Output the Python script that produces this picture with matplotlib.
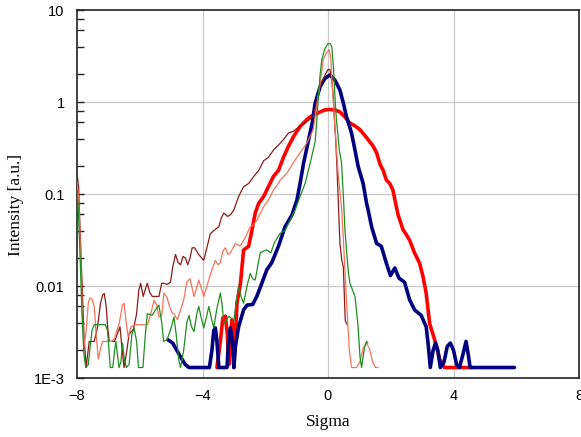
import numpy as np
import matplotlib
matplotlib.use("Agg")
import matplotlib.pyplot as plt
from matplotlib.ticker import FixedLocator, FixedFormatter, LogLocator, NullFormatter

# axis ticks
x_ticks = [-8, -4, 0, 4, 8]
y_ticks = [1e-3, 1e-2, 1e-1, 1, 10]
y_tick_labels = ["1E-3", "0.01", "0.1", "1", "10"]

# dark red (thin)
s_darkred = [-8.00, -7.95, -7.90, -7.84, -7.78, -7.71, -7.66, -7.61, -7.45, -7.35, -7.25, -7.18, -7.13, -7.07,
             -7.02, -6.97, -6.80, -6.72, -6.63, -6.56, -6.50, -6.43, -6.34, -6.20, -6.10, -6.03, -5.97, -5.89,
             -5.81, -5.76, -5.68, -5.60, -5.50, -5.39, -5.30, -5.23, -5.13, -5.02, -4.95, -4.86, -4.78, -4.70,
             -4.62, -4.54, -4.47, -4.40, -4.33, -4.25, -4.12, -3.96, -3.85, -3.75, -3.64, -3.48, -3.40, -3.32,
             -3.20, -3.10, -3.00, -2.85, -2.69, -2.53, -2.37, -2.21, -2.05, -1.90, -1.74, -1.58, -1.42, -1.26,
             -1.10, -0.89, -0.68, -0.47, -0.36, -0.25, -0.10, 0.00, 0.06, 0.12, 0.17, 0.21, 0.25, 0.29, 0.33,
             0.38, 0.44, 0.49, 0.52, 0.55, 0.61]
i_darkred = [0.17, 0.12, 0.04, 0.011, 0.003, 0.0013, 0.0018, 0.0025, 0.0025, 0.0035, 0.0065, 0.008, 0.0083, 0.006,
             0.0035, 0.0025, 0.0025, 0.003, 0.0036, 0.002, 0.0013, 0.0018, 0.003, 0.0034, 0.005, 0.009, 0.0107, 0.0077,
             0.0095, 0.0107, 0.0085, 0.0077, 0.0077, 0.0077, 0.0107, 0.0107, 0.0104, 0.011, 0.016, 0.022, 0.018, 0.017,
             0.021, 0.02, 0.017, 0.02, 0.026, 0.026, 0.022, 0.019, 0.027, 0.037, 0.04, 0.044, 0.055, 0.062,
             0.057, 0.06, 0.067, 0.094, 0.12, 0.13, 0.155, 0.18, 0.23, 0.25, 0.30, 0.34, 0.39, 0.46,
             0.48, 0.55, 0.61, 0.69, 1.0, 1.5, 1.95, 2.25, 2.26, 1.7, 1.14, 0.6, 0.36, 0.18, 0.08,
             0.029, 0.019, 0.016, 0.008, 0.0042, 0.0038]

# salmon (thin)
s_salmon = [-8.00, -7.95, -7.88, -7.82, -7.77, -7.70, -7.64, -7.59, -7.52, -7.45, -7.39, -7.32, -7.26, -7.19, -6.90,
            -6.80, -6.65, -6.55, -6.50, -6.43, -6.37, -6.28, -6.15, -5.97, -5.75, -5.65, -5.54, -5.46, -5.39, -5.30,
            -5.23, -5.13, -5.05, -4.97, -4.91, -4.80, -4.70, -4.60, -4.50, -4.40, -4.33, -4.27, -4.19, -4.12, -4.04,
            -3.96, -3.88, -3.80, -3.70, -3.59, -3.50, -3.43, -3.35, -3.27, -3.19, -3.11, -2.95, -2.80, -2.63, -2.48,
            -2.38, -2.27, -2.15, -2.05, -1.90, -1.74, -1.62, -1.52, -1.31, -1.10, -0.89, -0.68, -0.47, -0.36, -0.25,
            -0.15, -0.05, 0.04, 0.09, 0.12, 0.17, 0.22, 0.33, 0.43, 0.49, 0.54, 0.59, 0.68, 0.75, 0.91, 1.02, 1.12,
            1.23, 1.32, 1.42, 1.52, 1.60]
i_salmon = [0.135, 0.09, 0.02, 0.004, 0.0022, 0.0035, 0.0065, 0.0074, 0.0072, 0.006, 0.003, 0.0016, 0.002, 0.0025, 0.0025,
            0.0027, 0.004, 0.0062, 0.0065, 0.004, 0.0028, 0.0036, 0.0038, 0.0038, 0.0038, 0.005, 0.007, 0.0062, 0.0046, 0.0047,
            0.0084, 0.0075, 0.006, 0.0051, 0.005, 0.0043, 0.0055, 0.007, 0.011, 0.012, 0.0095, 0.0077, 0.0095, 0.0116, 0.0095,
            0.0077, 0.0095, 0.0116, 0.015, 0.019, 0.017, 0.018, 0.024, 0.026, 0.022, 0.023, 0.029, 0.027, 0.034, 0.044,
            0.046, 0.052, 0.062, 0.073, 0.086, 0.11, 0.125, 0.142, 0.168, 0.22, 0.28, 0.355, 0.5, 0.9, 1.6,
            2.9, 3.4, 3.7, 3.0, 1.9, 1.0, 0.54, 0.155, 0.073, 0.032, 0.015, 0.007, 0.002, 0.0013, 0.0013, 0.0015, 0.0021,
            0.0024, 0.0021, 0.0015, 0.0013, 0.0013]

# green (thin)
s_green = [-8.00, -7.96, -7.90, -7.84, -7.78, -7.72, -7.64, -7.58, -7.52, -7.45, -7.10, -7.03, -6.98, -6.94, -6.86,
           -6.80, -6.76, -6.71, -6.66, -6.60, -6.55, -6.49, -6.43, -6.34, -6.25, -6.18, -6.10, -6.04, -5.90, -5.82,
           -5.76, -5.60, -5.50, -5.39, -5.30, -5.24, -5.13, -5.00, -4.91, -4.84, -4.76, -4.70, -4.60, -4.50, -4.43,
           -4.35, -4.27, -4.18, -4.12, -4.04, -3.96, -3.88, -3.80, -3.72, -3.64, -3.55, -3.43, -3.37, -3.32, -3.16,
           -3.00, -2.92, -2.85, -2.76, -2.69, -2.58, -2.48, -2.40, -2.32, -2.16, -2.05, -1.95, -1.82, -1.70, -1.52,
           -1.37, -1.21, -1.05, -0.89, -0.73, -0.57, -0.41, -0.36, -0.31, -0.25, -0.20, -0.10, 0.00, 0.07, 0.12,
           0.16, 0.19, 0.23, 0.27, 0.36, 0.43, 0.49, 0.54, 0.59, 0.65, 0.70, 0.86, 0.96, 1.02, 1.07, 1.12, 1.17,
           1.23, 1.27]
i_green = [0.11, 0.07, 0.02, 0.005, 0.0018, 0.0013, 0.0014, 0.0022, 0.0033, 0.0038, 0.0038, 0.0033, 0.002, 0.0013, 0.0013,
           0.002, 0.0025, 0.0018, 0.0013, 0.0015, 0.0024, 0.0016, 0.0013, 0.0014, 0.003, 0.0035, 0.0025, 0.0013, 0.0013, 0.003,
           0.005, 0.0048, 0.0055, 0.0062, 0.004, 0.0025, 0.0026, 0.0035, 0.0046, 0.003, 0.0016, 0.0013, 0.002, 0.004, 0.0048,
           0.0036, 0.0032, 0.005, 0.006, 0.0045, 0.0035, 0.0045, 0.006, 0.0045, 0.0035, 0.0055, 0.0084, 0.006, 0.0039, 0.0047,
           0.0042, 0.007, 0.0098, 0.0075, 0.0065, 0.01, 0.0137, 0.012, 0.0116, 0.023, 0.024, 0.0246, 0.023, 0.03, 0.0375,
           0.04, 0.052, 0.067, 0.094, 0.13, 0.215, 0.37, 0.6, 1.1, 2.0, 2.86, 3.8, 4.3, 4.3, 4.0,
           2.8, 1.9, 1.0, 0.64, 0.30, 0.22, 0.094, 0.041, 0.0246, 0.014, 0.0107, 0.0077, 0.0036, 0.0017, 0.0013, 0.0017, 0.0022,
           0.0025, 0.0024]

# red (thick)
s_red = [-3.54, -3.45, -3.35, -3.27, -3.21, -3.16, -3.11, -3.06, -3.03, -3.00, -2.95, -2.90, -2.79, -2.69, -2.53,
         -2.42, -2.32, -2.21, -2.05, -1.90, -1.74, -1.58, -1.42, -1.26, -1.10, -0.89, -0.68, -0.57, -0.40, -0.25,
         -0.10, 0.06, 0.22, 0.38, 0.55, 0.70, 0.86, 1.02, 1.18, 1.33, 1.44, 1.55, 1.66, 1.76, 1.86, 1.97, 2.07,
         2.23, 2.39, 2.50, 2.60, 2.76, 2.92, 3.03, 3.13, 3.24, 3.40, 3.56, 3.71, 4.56]
i_red = [0.0013, 0.0022, 0.0045, 0.0047, 0.003, 0.0014, 0.003, 0.0043, 0.003, 0.0013, 0.003, 0.0065, 0.0107, 0.0246, 0.027,
         0.041, 0.062, 0.079, 0.094, 0.12, 0.155, 0.18, 0.25, 0.33, 0.42, 0.54, 0.64, 0.69, 0.74, 0.78,
         0.82, 0.83, 0.82, 0.78, 0.68, 0.59, 0.55, 0.50, 0.43, 0.37, 0.33, 0.28, 0.21, 0.18, 0.142, 0.13, 0.11,
         0.06, 0.041, 0.036, 0.0316, 0.0228, 0.0177, 0.0126, 0.0083, 0.0039, 0.0026, 0.0016, 0.0013, 0.0013]

# navy (thick)
s_navy = [-5.10, -4.95, -4.82, -4.70, -4.55, -4.43, -3.78, -3.70, -3.64, -3.59, -3.54, -3.48, -3.22, -3.17, -3.11,
          -3.05, -3.00, -2.95, -2.85, -2.69, -2.58, -2.40, -2.27, -2.11, -1.95, -1.79, -1.58, -1.37, -1.15, -0.99,
          -0.89, -0.78, -0.62, -0.50, -0.41, -0.25, -0.10, 0.06, 0.22, 0.38, 0.49, 0.59, 0.75, 0.86, 0.96, 1.12,
          1.23, 1.28, 1.39, 1.55, 1.70, 1.86, 1.99, 2.13, 2.26, 2.44, 2.60, 2.76, 2.97, 3.13, 3.20, 3.26, 3.35,
          3.43, 3.50, 3.58, 3.70, 3.80, 3.90, 4.00, 4.10, 4.19, 4.30, 4.40, 4.47, 4.53, 5.94]
i_navy = [0.0026, 0.0024, 0.002, 0.0017, 0.0014, 0.0013, 0.0013, 0.002, 0.0033, 0.0035, 0.0025, 0.0013, 0.0013, 0.0025, 0.0035,
          0.0025, 0.0013, 0.0022, 0.0036, 0.0055, 0.0062, 0.0063, 0.0077, 0.0107, 0.015, 0.018, 0.027, 0.044, 0.059, 0.086,
          0.13, 0.215, 0.386, 0.6, 0.97, 1.47, 1.8, 1.97, 1.73, 1.35, 0.97, 0.69, 0.46, 0.30, 0.2, 0.13,
          0.079, 0.067, 0.044, 0.029, 0.027, 0.0177, 0.013, 0.0157, 0.0122, 0.011, 0.0071, 0.0055, 0.0048, 0.0036, 0.0022, 0.0013, 0.002,
          0.0024, 0.002, 0.0013, 0.0015, 0.0022, 0.0024, 0.002, 0.0014, 0.0013, 0.0018, 0.0025, 0.0018, 0.0013, 0.0013]

W, H = 581, 437
fig = plt.figure(figsize=(W / 100, H / 100), dpi=100)
ax = fig.add_axes([77 / W, 1 - 378 / H, (579 - 77) / W, (378 - 10) / H])

line_kw = dict(solid_joinstyle="round", solid_capstyle="round")
ax.plot(s_red, i_red, color="#ff0000", lw=2.6, zorder=3, **line_kw)
ax.plot(s_navy, i_navy, color="#000080", lw=2.6, zorder=4, **line_kw)
ax.plot(s_darkred, i_darkred, color="#8b1a1a", lw=0.9, zorder=5, **line_kw)
ax.plot(s_salmon, i_salmon, color="#f4735a", lw=0.9, zorder=5, **line_kw)
ax.plot(s_green, i_green, color="#1f8f1f", lw=0.9, zorder=6, **line_kw)

ax.set_yscale("log")
ax.set_xlim(-8, 8)
ax.set_ylim(1e-3, 10)

ax.xaxis.set_major_locator(FixedLocator(x_ticks))
ax.yaxis.set_major_locator(FixedLocator(y_ticks))
ax.yaxis.set_major_formatter(FixedFormatter(y_tick_labels))
ax.yaxis.set_minor_locator(LogLocator(base=10, subs=[2, 4, 6, 8]))
ax.yaxis.set_minor_formatter(NullFormatter())

tick_font = dict(family="Liberation Sans", size=10.5)
for lbl in ax.get_xticklabels() + ax.get_yticklabels():
    lbl.set_fontfamily(tick_font["family"])
    lbl.set_fontsize(tick_font["size"])

ax.tick_params(axis="y", which="both", direction="in", length=5, width=1, right=False, pad=9, color="#222222")
ax.tick_params(axis="x", which="both", direction="in", length=0, pad=8)

# grid only inside the box (not on the axes edges)
for xv in x_ticks[1:-1]:
    ax.axvline(xv, color="#c8c8c8", lw=0.9, zorder=1)
for yv in y_ticks[1:-1]:
    ax.axhline(yv, color="#c8c8c8", lw=0.9, zorder=1)

for sp in ax.spines.values():
    sp.set_linewidth(1.2)
    sp.set_color("#222222")

ax.set_xlabel("Sigma", family="Liberation Serif", fontsize=12.5, labelpad=8)
ax.set_ylabel("Intensity [a.u.]", family="Liberation Serif", fontsize=12.5)
ax.yaxis.set_label_coords(-0.105, 0.47)

fig.savefig("out.png", dpi=100)
